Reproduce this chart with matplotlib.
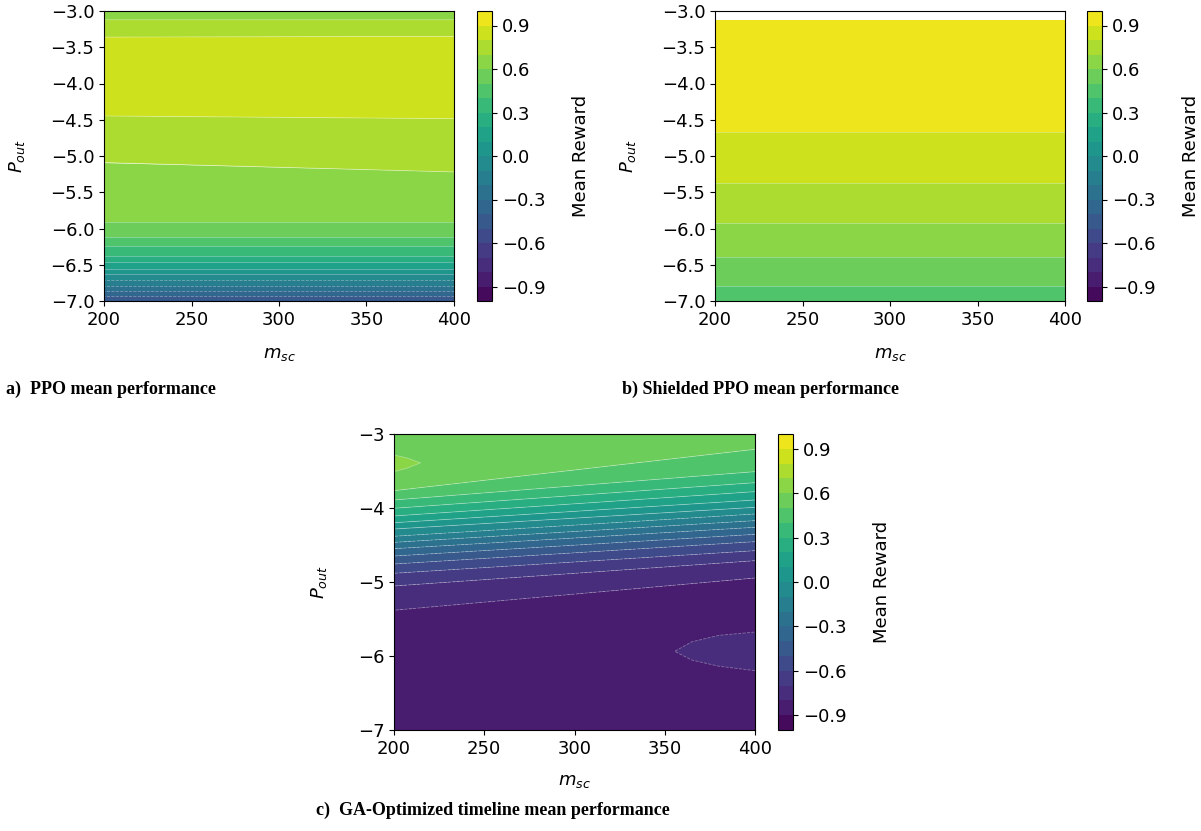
import numpy as np
from matplotlib import pyplot as plt

# contour levels shared by all three panels
LEVELS = np.linspace(-1.0, 1.0, 21)
CBAR_TICKS = [-0.9, -0.6, -0.3, 0.0, 0.3, 0.6, 0.9]
M_SC = [200, 400]

# a) PPO: mean reward along P_out, with the P_out where it is reached at m_sc = 200 / 400
ppo_reward = [0.65, 0.7, 0.8, 0.88, 0.8, 0.7, 0.6, 0.5, 0.4, 0.3, 0.2, 0.1, 0.0,
              -0.1, -0.2, -0.3, -0.4, -0.45]
ppo_p_200 = [-3.0, -3.12, -3.36, -3.9, -4.448, -5.09, -5.91, -6.117, -6.245, -6.374,
             -6.466, -6.553, -6.632, -6.71, -6.788, -6.862, -6.931, -7.0]
ppo_p_400 = [-3.0, -3.12, -3.35, -3.9, -4.485, -5.22, -5.91, -6.117, -6.245, -6.374,
             -6.466, -6.553, -6.632, -6.71, -6.788, -6.862, -6.931, -7.0]

# b) Shielded PPO (no data above P_out = -3.13)
shield_reward = [0.95, 0.9, 0.8, 0.7, 0.6, 0.5, 0.45]
shield_p_200 = [-3.13, -4.669, -5.372, -5.919, -6.393, -6.797, -7.0]
shield_p_400 = [-3.13, -4.669, -5.372, -5.919, -6.393, -6.797, -7.0]

# c) GA-optimized timeline
ga_reward = [0.55, 0.5, 0.4, 0.3, 0.2, 0.1, 0.0, -0.1, -0.2, -0.3, -0.4, -0.5, -0.6,
             -0.7, -0.8, -0.85]
ga_p_200 = [-3.0, -3.766, -3.892, -4.004, -4.108, -4.199, -4.284, -4.382, -4.464,
            -4.55, -4.649, -4.757, -4.882, -5.054, -5.382, -7.0]
ga_p_400 = [-3.0, -3.207, -3.509, -3.658, -3.779, -3.892, -3.991, -4.081, -4.171,
            -4.261, -4.356, -4.455, -4.577, -4.712, -4.946, -7.0]

# local bumps in the GA surface
ga_bump_hi_m = [200, 207, 215]
ga_bump_hi_p = [-3.25, -3.39, -3.53]
ga_bump_hi_z = [[0.584, 0.57, 0.55],
                [0.65, 0.628, 0.599],
                [0.591, 0.575, 0.55]]
ga_bump_lo_m = [355, 365, 380, 400]
ga_bump_lo_p = [-5.55, -5.937, -6.35]
ga_bump_lo_z = [[-0.86, -0.84, -0.83, -0.829],
                [-0.801, -0.78, -0.762, -0.74],
                [-0.86, -0.85, -0.84, -0.835]]

W, H = 1201, 831
FS = 13
fig = plt.figure(figsize=(W / 100, H / 100), dpi=100)


def px_axes(x0, y0, x1, y1):
    return fig.add_axes([x0 / W, 1 - y1 / H, (x1 - x0) / W, (y1 - y0) / H])


def seams(ax, X, Y, Z, levels):
    # faint light edges between the filled bands
    ax.contour(X, Y, Z, levels=levels, colors='white', linewidths=0.6, alpha=0.35)


def band_surface(ax, reward, p_200, p_400):
    n = len(reward)
    X = np.tile(np.array(M_SC, dtype=float), (n, 1))
    Y = np.column_stack([p_200, p_400])
    Z = np.tile(np.array(reward)[:, None], (1, 2))
    cs = ax.contourf(X, Y, Z, levels=LEVELS, cmap='viridis', antialiased=True)
    seams(ax, X, Y, Z, LEVELS)
    return cs


def bump(ax, m, p, z, lo, hi):
    ax.contourf(m, p, z, levels=[lo, hi], cmap='viridis', vmin=-1, vmax=1,
                antialiased=True)
    ax.contour(m, p, z, levels=[lo], colors='white', linewidths=0.6, alpha=0.35)


def style_panel(ax, cax, cs, yticks, ylab_x, xlab_pad):
    ax.set_xlim(200, 400)
    ax.set_ylim(-7, -3)
    ax.set_xticks([200, 250, 300, 350, 400])
    ax.set_yticks(yticks)
    ax.tick_params(labelsize=FS)
    ax.set_xlabel(r'$m_{sc}$', fontsize=FS, labelpad=xlab_pad)
    ax.set_ylabel(r'$P_{out}$', fontsize=FS)
    ax.yaxis.set_label_coords(ylab_x, 0.5)
    cb = fig.colorbar(cs, cax=cax, ticks=CBAR_TICKS)
    cb.ax.tick_params(labelsize=FS)
    cb.set_label('Mean Reward', fontsize=FS, labelpad=19)


half_ticks = np.arange(-7.0, -2.9, 0.5)

# a) PPO
ax_a = px_axes(104, 11, 454, 301)
cax_a = px_axes(477, 11, 492, 301)
cs_a = band_surface(ax_a, ppo_reward, ppo_p_200, ppo_p_400)
style_panel(ax_a, cax_a, cs_a, half_ticks, -0.22, 12)

# b) Shielded PPO
ax_b = px_axes(715, 11, 1065, 301)
cax_b = px_axes(1087, 11, 1102, 301)
cs_b = band_surface(ax_b, shield_reward, shield_p_200, shield_p_400)
style_panel(ax_b, cax_b, cs_b, half_ticks, -0.22, 12)

# c) GA-optimized timeline
ax_c = px_axes(394, 434, 755, 730)
cax_c = px_axes(778, 434, 793, 730)
cs_c = band_surface(ax_c, ga_reward, ga_p_200, ga_p_400)
bump(ax_c, ga_bump_hi_m, ga_bump_hi_p, ga_bump_hi_z, 0.6, 0.7)
bump(ax_c, ga_bump_lo_m, ga_bump_lo_p, ga_bump_lo_z, -0.8, -0.7)
style_panel(ax_c, cax_c, cs_c, [-7, -6, -5, -4, -3], -0.18, 10)

cap = dict(family='Liberation Serif', fontweight='bold', fontsize=13, va='center')
fig.text(6 / W, 1 - 389 / H, 'a)  PPO mean performance', **cap)
fig.text(622 / W, 1 - 389 / H, 'b) Shielded PPO mean performance', **cap)
fig.text(316 / W, 1 - 810 / H, 'c)  GA-Optimized timeline mean performance', **cap)

fig.savefig('out.png', dpi=100)
